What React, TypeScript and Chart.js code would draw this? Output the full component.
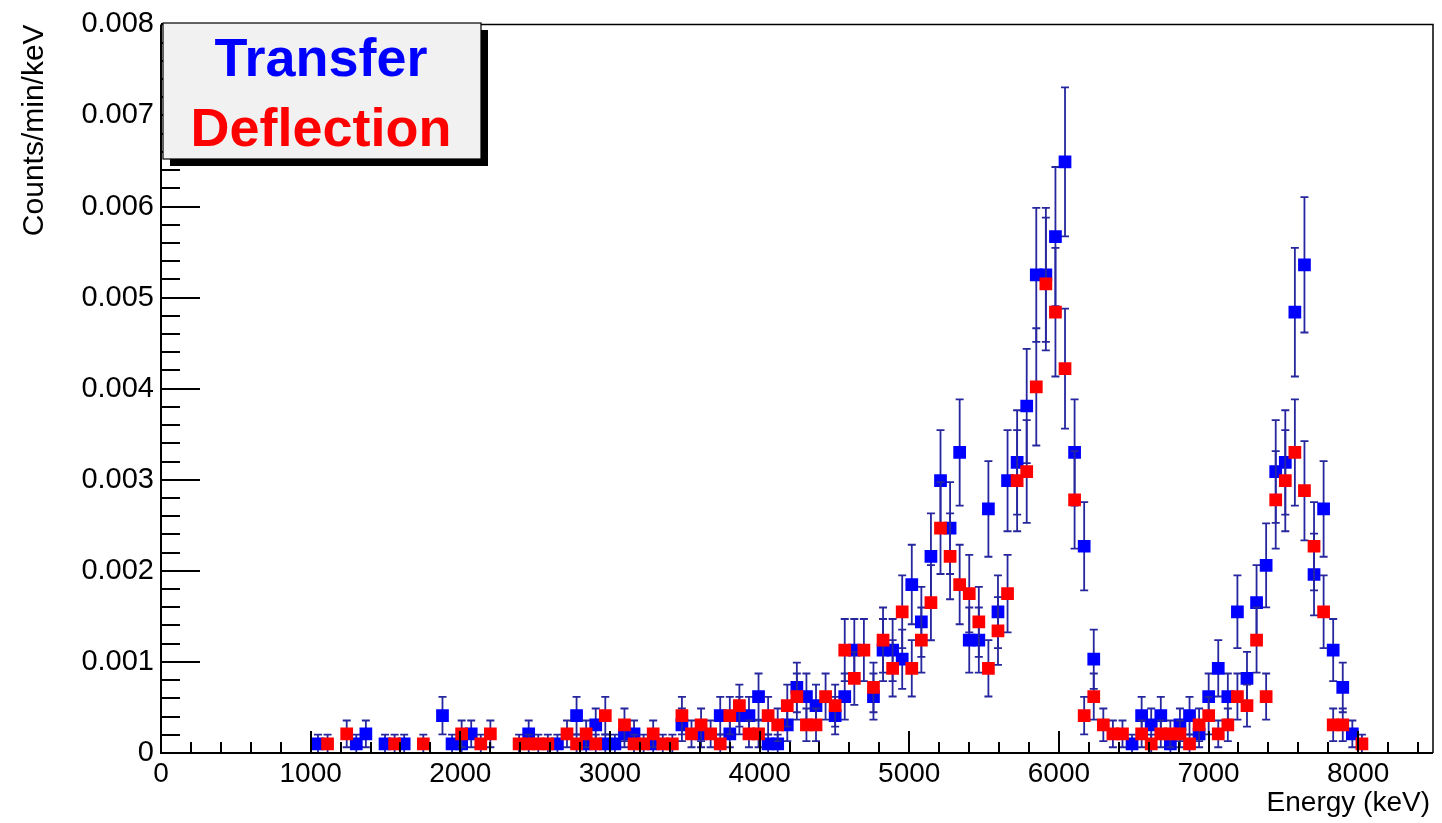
import React, { useEffect, useRef } from "react";
import { Chart, registerables } from "chart.js";

Chart.register(...registerables);

// Bin centres (keV)
const energies = [
  1049, 1113, 1177, 1241, 1305, 1369, 1433, 1497, 1561, 1625,
  1689, 1753, 1817, 1881, 1945, 2009, 2073, 2137, 2201, 2265,
  2329, 2393, 2457, 2521, 2585, 2649, 2713, 2777, 2841, 2905,
  2969, 3033, 3097, 3161, 3225, 3289, 3353, 3417, 3481, 3545,
  3609, 3673, 3737, 3801, 3865, 3929, 3993, 4057, 4121, 4185,
  4249, 4313, 4377, 4441, 4505, 4569, 4633, 4697, 4761, 4825,
  4889, 4953, 5017, 5081, 5145, 5209, 5273, 5337, 5401, 5465,
  5529, 5593, 5657, 5721, 5785, 5849, 5913, 5977, 6041, 6105,
  6169, 6233, 6297, 6361, 6425, 6489, 6553, 6617, 6681, 6745,
  6809, 6873, 6937, 7001, 7065, 7129, 7193, 7257, 7321, 7385,
  7449, 7513, 7577, 7641, 7705, 7769, 7833, 7897, 7961, 8025,
];

// Transfer (blue) counts/min/keV
const transfer = [
  0.00010, null, null, null, 0.00010, 0.00021, null, 0.00010, null, 0.00010,
  null, null, null, 0.00041, 0.00010, 0.00010, 0.00021, null, null, null,
  null, null, 0.00021, null, null, 0.00010, null, 0.00041, 0.00010, 0.00031,
  0.00010, 0.00010, 0.00021, 0.00021, null, 0.00010, null, null, 0.00031, null,
  0.00021, null, 0.00041, 0.00021, 0.00041, 0.00041, 0.00062, 0.00010, 0.00010, 0.00031,
  0.00072, 0.00062, 0.00052, null, 0.00041, 0.00062, 0.00113, null, 0.00062, 0.00113,
  0.00113, 0.00103, 0.00185, 0.00144, 0.00216, 0.00299, 0.00247, 0.00330, 0.00124, 0.00124,
  0.00268, 0.00155, 0.00299, 0.00319, 0.00381, 0.00525, 0.00525, 0.00567, 0.00649, 0.00330,
  0.00227, 0.00103, null, null, null, 0.00010, 0.00041, 0.00031, 0.00041, 0.00010,
  0.00031, 0.00041, 0.00021, 0.00062, 0.00093, 0.00062, 0.00155, 0.00082, 0.00165, 0.00206,
  0.00309, 0.00319, 0.00484, 0.00536, 0.00196, 0.00268, 0.00113, 0.00072, 0.00021, null,
];

// Deflection (red) counts/min/keV
const deflection = [
  null, 0.00010, null, 0.00021, null, null, null, null, 0.00010, null,
  null, 0.00010, null, null, null, 0.00021, null, 0.00010, 0.00021, null,
  null, 0.00010, 0.00010, 0.00010, 0.00010, null, 0.00021, 0.00010, 0.00021, 0.00010,
  0.00041, null, 0.00031, 0.00010, 0.00010, 0.00021, 0.00010, 0.00010, 0.00041, 0.00021,
  0.00031, 0.00021, 0.00010, 0.00041, 0.00052, 0.00021, 0.00021, 0.00041, 0.00031, 0.00052,
  0.00062, 0.00031, 0.00031, 0.00062, 0.00052, 0.00113, 0.00082, 0.00113, 0.00072, 0.00124,
  0.00093, 0.00155, 0.00093, 0.00124, 0.00165, 0.00247, 0.00216, 0.00185, 0.00175, 0.00144,
  0.00093, 0.00134, 0.00175, 0.00299, 0.00309, 0.00402, 0.00515, 0.00484, 0.00422, 0.00278,
  0.00041, 0.00062, 0.00031, 0.00021, 0.00021, null, 0.00021, 0.00010, 0.00021, 0.00021,
  0.00021, 0.00010, 0.00031, 0.00041, 0.00021, 0.00031, 0.00062, 0.00052, 0.00124, 0.00062,
  0.00278, 0.00299, 0.00330, 0.00288, 0.00227, 0.00155, 0.00031, 0.00031, null, 0.00010,
];

// counts/min/keV corresponding to a single count (Poisson error scale)
const countUnit = 0.000103;

const xTicks = [0, 1000, 2000, 3000, 4000, 5000, 6000, 7000, 8000];
const yTicks = [0, 0.001, 0.002, 0.003, 0.004, 0.005, 0.006, 0.007, 0.008];
const xMinorStep = 200;
const yMinorStep = 0.0002;

const seriesNames = ["Transfer", "Deflection"];
const seriesColors = ["#0000ff", "#ff0000"];
const errorColor = "#26269e";
const FONT = '"Liberation Sans", Arial, Helvetica, sans-serif';

function toPoints(values: (number | null)[]) {
  const pts: { x: number; y: number; e: number }[] = [];
  values.forEach((v, i) => {
    if (v !== null && v !== undefined) {
      pts.push({ x: energies[i], y: v, e: Math.sqrt(v * countUnit) });
    }
  });
  return pts;
}

const rootPlugin = {
  id: "rootStyle",
  beforeDatasetDraw(chart: any, args: any) {
    const ctx = chart.ctx;
    const xs = chart.scales.x;
    const ys = chart.scales.y;
    const data = chart.data.datasets[args.index].data as any[];
    ctx.save();
    ctx.strokeStyle = errorColor;
    ctx.lineWidth = 1.8;
    const cap = 4;
    for (const p of data) {
      const px = xs.getPixelForValue(p.x);
      const lo = Math.max(0, p.y - p.e);
      const hi = p.y + p.e;
      const pyLo = ys.getPixelForValue(lo);
      const pyHi = ys.getPixelForValue(hi);
      ctx.beginPath();
      ctx.moveTo(px, pyLo);
      ctx.lineTo(px, pyHi);
      ctx.moveTo(px - cap, pyHi);
      ctx.lineTo(px + cap, pyHi);
      ctx.moveTo(px - cap, pyLo);
      ctx.lineTo(px + cap, pyLo);
      ctx.stroke();
    }
    ctx.restore();
  },
  afterDraw(chart: any) {
    const ctx = chart.ctx;
    const { left, right, top, bottom } = chart.chartArea;
    const xs = chart.scales.x;
    const ys = chart.scales.y;
    ctx.save();
    ctx.strokeStyle = "#000";
    // frame
    ctx.lineWidth = 1.5;
    ctx.beginPath();
    ctx.moveTo(left, top);
    ctx.lineTo(right, top);
    ctx.lineTo(right, bottom);
    ctx.stroke();
    ctx.lineWidth = 2;
    ctx.beginPath();
    ctx.moveTo(left, top);
    ctx.lineTo(left, bottom);
    ctx.lineTo(right, bottom);
    ctx.stroke();

    // x ticks (inside)
    ctx.lineWidth = 2;
    ctx.beginPath();
    for (let v = 0; v <= 8500 + 1e-6; v += xMinorStep) {
      const px = Math.round(xs.getPixelForValue(v));
      const major = Math.abs(v % 1000) < 1e-6;
      const len = major ? 22 : 11;
      ctx.moveTo(px, bottom);
      ctx.lineTo(px, bottom - len);
    }
    ctx.stroke();
    // y ticks (inside)
    ctx.beginPath();
    for (let i = 0; i <= 40; i++) {
      const v = i * yMinorStep;
      const py = Math.round(ys.getPixelForValue(v));
      const major = i % 5 === 0;
      const len = major ? 39 : 19;
      ctx.moveTo(left, py);
      ctx.lineTo(left + len, py);
    }
    ctx.stroke();

    // axis titles
    ctx.fillStyle = "#000";
    ctx.font = `28px ${FONT}`;
    ctx.textAlign = "right";
    ctx.textBaseline = "middle";
    ctx.fillText("Energy (keV)", right - 3, 803);
    ctx.save();
    ctx.translate(35, top);
    ctx.rotate(-Math.PI / 2);
    ctx.font = `30px ${FONT}`;
    ctx.textAlign = "right";
    ctx.textBaseline = "middle";
    ctx.fillText("Counts/min/keV", 0, 0);
    ctx.restore();

    // legend box with shadow
    const bx = 163, by = 23, bw = 318, bh = 136;
    ctx.fillStyle = "#000";
    ctx.fillRect(bx + 7, by + 7, bw, bh);
    ctx.fillStyle = "#f1f1f1";
    ctx.fillRect(bx, by, bw, bh);
    ctx.lineWidth = 1.2;
    ctx.strokeStyle = "#000";
    ctx.strokeRect(bx, by, bw, bh);
    ctx.font = `bold 54px ${FONT}`;
    ctx.textAlign = "center";
    ctx.textBaseline = "alphabetic";
    ctx.fillStyle = seriesColors[0];
    ctx.fillText(seriesNames[0], bx + 158, 76);
    ctx.fillStyle = seriesColors[1];
    ctx.fillText(seriesNames[1], bx + 158, 146);
    ctx.restore();
  },
};

export default function App() {
  const canvasRef = useRef<HTMLCanvasElement | null>(null);

  useEffect(() => {
    document.body.style.margin = "0";
    const canvas = canvasRef.current;
    if (!canvas) return;
    const chart = new Chart(canvas, {
      type: "scatter",
      data: {
        datasets: [
          {
            label: seriesNames[0],
            data: toPoints(transfer) as any,
            pointStyle: "rect",
            pointRadius: 9,
            pointHoverRadius: 9,
            backgroundColor: seriesColors[0],
            borderWidth: 0,
            order: 2,
          },
          {
            label: seriesNames[1],
            data: toPoints(deflection) as any,
            pointStyle: "rect",
            pointRadius: 9,
            pointHoverRadius: 9,
            backgroundColor: seriesColors[1],
            borderWidth: 0,
            order: 1,
          },
        ],
      },
      plugins: [rootPlugin],
      options: {
        animation: false,
        responsive: false,
        devicePixelRatio: 1,
        events: [],
        layout: { padding: { left: 0, top: 23, right: 6, bottom: 0 } },
        plugins: {
          legend: { display: false },
          tooltip: { enabled: false },
          title: { display: false },
        },
        scales: {
          x: {
            type: "linear",
            min: 0,
            max: 8500,
            afterBuildTicks: (s: any) => {
              s.ticks = xTicks.map((v) => ({ value: v }));
            },
            afterFit: (s: any) => {
              s.height = 70;
            },
            ticks: {
              autoSkip: false,
              maxRotation: 0,
              padding: 4,
              color: "#000",
              font: { family: FONT, size: 28 },
              callback: (v: any) => String(v),
            },
            grid: { display: false, drawTicks: false },
            border: { display: false },
          },
          y: {
            type: "linear",
            min: 0,
            max: 0.008,
            afterBuildTicks: (s: any) => {
              s.ticks = yTicks.map((v) => ({ value: v }));
            },
            afterFit: (s: any) => {
              s.width = 161;
            },
            ticks: {
              autoSkip: false,
              padding: 7,
              color: "#000",
              font: { family: FONT, size: 29 },
              callback: (v: any) => (Number(v) === 0 ? "0" : Number(v).toFixed(3)),
            },
            grid: { display: false, drawTicks: false },
            border: { display: false },
          },
        },
      },
    });
    return () => chart.destroy();
  }, []);

  return (
    <div style={{ position: "absolute", left: 0, top: 0, width: 1442, height: 823, background: "#fff" }}>
      <canvas ref={canvasRef} width={1442} height={823} style={{ display: "block" }} />
    </div>
  );
}
